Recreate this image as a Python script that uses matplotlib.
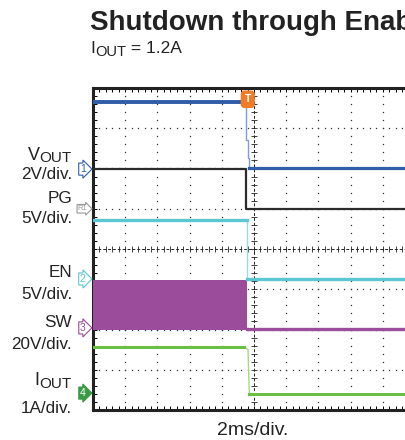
import numpy as np
import matplotlib
matplotlib.use("Agg")
import matplotlib.pyplot as plt
import matplotlib.transforms as mtransforms

plt.rcParams['font.family'] = ['Liberation Sans', 'DejaVu Sans']

W, H = 405, 440

# scope settings: (offset in divisions, units per division)
vout_off, vout_scale = 5.985, 2.0
pg_off, pg_scale = 5.0, 5.0
en_off, en_scale = 3.255, 5.0
sw_off, sw_scale = 2.04, 20.0
iout_off, iout_scale = 0.42, 1.0

# traces, time in ms (2 ms/div)
vout_t = [-10, -0.50, -0.50, -0.39, -0.39, -0.29, -0.29, 10]
vout_v = [3.35, 3.35, 1.45, 1.45, 0.55, 0.55, 0.05, 0.05]

pg_t = [-10, -0.50, -0.50, 10]
pg_v = [4.9, 4.9, 0.0, 0.0]

en_t = [-10, -0.43, -0.43, 10]
en_v = [7.3, 7.3, 0.0, 0.0]

sw_t = [-10, -0.43]
sw_top = [23.8, 23.8]
sw_bot = [-1.0, -1.0]
sw_off_t = [-0.43, 10]
sw_off_v = [-0.6, -0.6]

iout_t = [-10, -0.62, -0.37, -0.31, -0.28, 10]
iout_v = [1.15, 1.15, 1.08, 0.2, -0.02, -0.02]

trig_t = -0.39

c_blue = '#2f5da8'
c_black = '#2b2b2b'
c_cyan = '#5cc6d3'
c_purple = '#9b4c9b'
c_green = '#6abf45'
c_orange = '#f07c2a'

fig = plt.figure(figsize=(W / 100, H / 100), dpi=100)
ax = fig.add_axes([93 / W, 30 / H, 322 / W, 322 / H])
ax.set_xlim(-10, 10)
ax.set_ylim(0, 8)

# graticule
ys = np.arange(0.2, 8, 0.2)
xs = np.arange(-9.6, 10, 0.4)
for gx in [-8, -6, -4, -2, 2, 4, 6, 8]:
    ax.plot(np.full_like(ys, gx), ys, ls='none', marker='s', ms=0.9, mew=0, color='#333', zorder=1)
for gy in [1, 2, 3, 5, 6, 7]:
    ax.plot(xs, np.full_like(xs, gy), ls='none', marker='s', ms=0.9, mew=0, color='#333', zorder=1)
ax.axvline(0, ls=(0, (3, 2)), lw=0.7, color='#222', zorder=1)
ax.axhline(4, ls=(0, (3, 2)), lw=0.7, color='#222', zorder=1)
ax.plot(np.zeros_like(ys), ys, ls='none', marker='_', ms=4, mew=0.6, color='#222', zorder=1)
ax.plot(xs, np.full_like(xs, 4), ls='none', marker='|', ms=4, mew=0.6, color='#222', zorder=1)

ax.set_xticks([])
ax.set_yticks([])
ax.set_xticks(xs, minor=True)
ax.set_yticks(ys, minor=True)
ax.tick_params(which='minor', direction='in', length=3, width=0.7,
               top=True, bottom=True, left=True, right=False,
               labelbottom=False, labelleft=False)
for s in ['left', 'top', 'bottom']:
    ax.spines[s].set_linewidth(2.2)
    ax.spines[s].set_color('#222')
ax.spines['right'].set_visible(False)

def lvl(v, off, sc):
    return off + np.asarray(v) / sc

# VOUT
vy = lvl(vout_v, vout_off, vout_scale)
ax.plot(vout_t, vy, color='#7f9dd0', lw=1.0, zorder=3)
ax.plot(vout_t[:2], vy[:2], color=c_blue, lw=2.8, zorder=4)
ax.plot(vout_t[-2:], vy[-2:], color=c_blue, lw=2.3, zorder=4)

# PG
py = lvl(pg_v, pg_off, pg_scale)
ax.plot(pg_t, py, color=c_black, lw=1.6, zorder=3)

# EN
ey = lvl(en_v, en_off, en_scale)
ax.plot(en_t, ey, color='#9adbe2', lw=1.0, zorder=3)
ax.plot(en_t[:2], ey[:2], color=c_cyan, lw=2.4, zorder=4)
ax.plot(en_t[-2:], ey[-2:], color=c_cyan, lw=2.4, zorder=4)

# SW
ax.fill_between(sw_t, lvl(sw_bot, sw_off, sw_scale), lvl(sw_top, sw_off, sw_scale),
                color=c_purple, lw=0, zorder=3)
ax.plot(sw_off_t, lvl(sw_off_v, sw_off, sw_scale), color=c_purple, lw=2.4, zorder=3)

# IOUT
iy = lvl(iout_v, iout_off, iout_scale)
ax.plot(iout_t, iy, color='#a3d98a', lw=1.0, zorder=3)
ax.plot(iout_t[:2], iy[:2], color=c_green, lw=2.2, zorder=4)
ax.plot(iout_t[-2:], iy[-2:], color=c_green, lw=2.2, zorder=4)

# trigger marker
ax.text(trig_t, 7.72, 'T', color='white', fontsize=7.5, fontweight='bold',
        ha='center', va='center', zorder=6,
        bbox=dict(boxstyle='round,pad=0.3', fc=c_orange, ec=c_orange))

# channel markers
tr = mtransforms.blended_transform_factory(ax.transAxes, ax.transData)
markers = [('1', vout_off, c_blue, 'white'),
           ('R1', pg_off, '#999999', 'white'),
           ('2', en_off, c_cyan, 'white'),
           ('3', sw_off, c_purple, 'white'),
           ('4', iout_off, '#3c9a46', '#3c9a46')]
for txt, y, ec, fc in markers:
    tc = 'white' if fc != 'white' else ec
    ax.text(-0.032, y, txt, transform=tr, ha='center', va='center',
            fontsize=7.5 if len(txt) == 1 else 5.5, color=tc, clip_on=False, zorder=6,
            bbox=dict(boxstyle='rarrow,pad=0.1', fc=fc, ec=ec, lw=0.8))

# text helpers (pixel positions from top-left)
renderer = fig.canvas.get_renderer()

def ftext(x, y, s, **kw):
    return fig.text(x / W, 1 - y / H, s, **kw)

def sub_text(x, y, main, sub, size, sub_size, drop=3):
    t = ftext(x, y + drop, sub, ha='right', va='baseline', fontsize=sub_size, color='#222')
    w = t.get_window_extent(renderer).width
    ftext(x - w, y, main, ha='right', va='baseline', fontsize=size, color='#222')

# left labels
sub_text(72, 160, 'V', 'OUT', 13, 11, drop=2)
sub_text(72, 385, 'I', 'OUT', 13, 11)
labels = [(179, '2V/div.'), (203, 'PG'), (223, '5V/div.'),
          (277, 'EN'), (299, '5V/div.'), (327, 'SW'), (349, '20V/div.'),
          (413, '1A/div.')]
for y, s in labels:
    ftext(72, y, s, ha='right', va='baseline', fontsize=12.3, color='#222')

ftext(90, 30, 'Shutdown through Enable', ha='left', va='baseline',
      fontsize=20, fontweight='bold', color='#222')
t = ftext(90, 53, 'I', ha='left', va='baseline', fontsize=12.5, color='#222')
w = t.get_window_extent(renderer).width
t2 = ftext(90 + w, 56, 'OUT', ha='left', va='baseline', fontsize=10.5, color='#222')
w2 = t2.get_window_extent(renderer).width
ftext(90 + w + w2, 53, ' = 1.2A', ha='left', va='baseline', fontsize=12.5, color='#222')
ftext(253, 435, '2ms/div.', ha='center', va='baseline', fontsize=14, color='#222')

fig.savefig('out.png', dpi=100)
